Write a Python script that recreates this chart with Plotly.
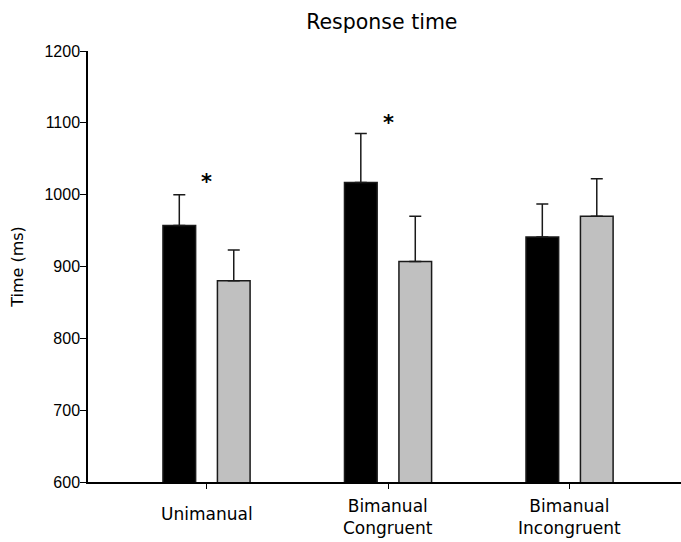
import plotly.graph_objects as go

# Mean response times (ms) and standard errors per condition
categories = ["Unimanual", "Bimanual<br>Congruent", "Bimanual<br>Incongruent"]
series_a_mean = [957, 1017, 941]
series_a_err = [43, 68, 46]
series_b_mean = [880, 907, 970]
series_b_err = [43, 63, 52]

# Significance markers: (category index, y value)
sig_idx = [0, 1]
sig_y = [1017, 1100]

y_ticks = [600, 700, 800, 900, 1000, 1100, 1200]

x_pos = list(range(len(categories)))
bar_w = 0.18

fig = go.Figure()
fig.add_trace(go.Bar(
    x=x_pos, y=series_a_mean, width=bar_w, offset=-0.24,
    marker=dict(color="#000000", line=dict(color="#1a1a1a", width=1.5)),
    error_y=dict(type="data", array=series_a_err, symmetric=False,
                 arrayminus=[0] * len(series_a_err),
                 color="#1a1a1a", thickness=1.5, width=6),
    showlegend=False,
))
fig.add_trace(go.Bar(
    x=x_pos, y=series_b_mean, width=bar_w, offset=0.06,
    marker=dict(color="#c0c0c0", line=dict(color="#1a1a1a", width=1.5)),
    error_y=dict(type="data", array=series_b_err, symmetric=False,
                 arrayminus=[0] * len(series_b_err),
                 color="#1a1a1a", thickness=1.5, width=6),
    showlegend=False,
))

annotations = []
for i, yv in zip(sig_idx, sig_y):
    annotations.append(dict(
        x=i, y=yv, xref="x", yref="y", text="<b>*</b>", showarrow=False,
        font=dict(family="DejaVu Sans", size=21, color="#000000"),
        xanchor="center", yanchor="middle",
    ))
# Category labels centred under each tick
for i, lab in enumerate(categories):
    two_line = "<br>" in lab
    annotations.append(dict(
        x=i, y=0, xref="x", yref="paper", text=lab, showarrow=False,
        font=dict(family="DejaVu Sans", size=17, color="#000000"),
        xanchor="center", yanchor="top", yshift=-12 if two_line else -20,
    ))

fig.update_layout(
    width=681, height=542,
    margin=dict(l=88, r=0, t=51, b=60),
    paper_bgcolor="white", plot_bgcolor="white",
    barmode="overlay",
    title=dict(text="Response time", x=0.4955, xref="paper", xanchor="center",
               y=1 - 22 / 542, yref="container", yanchor="middle",
               font=dict(family="DejaVu Sans", size=20.5, color="#000000")),
    annotations=annotations,
    xaxis=dict(
        range=[-0.653, 2.614], tickvals=x_pos, ticktext=[""] * len(x_pos),
        showticklabels=False,
        ticks="outside", ticklen=5, tickcolor="#000000", tickwidth=1,
        showline=True, linecolor="#000000", linewidth=1.5,
        showgrid=False, zeroline=False,
    ),
    yaxis=dict(
        range=[600, 1200], tickvals=y_ticks,
        ticks="outside", ticklen=6, tickcolor="#000000", tickwidth=1,
        ticklabelstandoff=-3,
        showline=True, linecolor="#000000", linewidth=1.5,
        showgrid=False, zeroline=False,
        tickfont=dict(family="Liberation Sans", size=16, color="#000000"),
        title=dict(text="Time (ms)", standoff=17,
                   font=dict(family="DejaVu Sans", size=16, color="#000000")),
    ),
)

fig.write_html("out.html")
